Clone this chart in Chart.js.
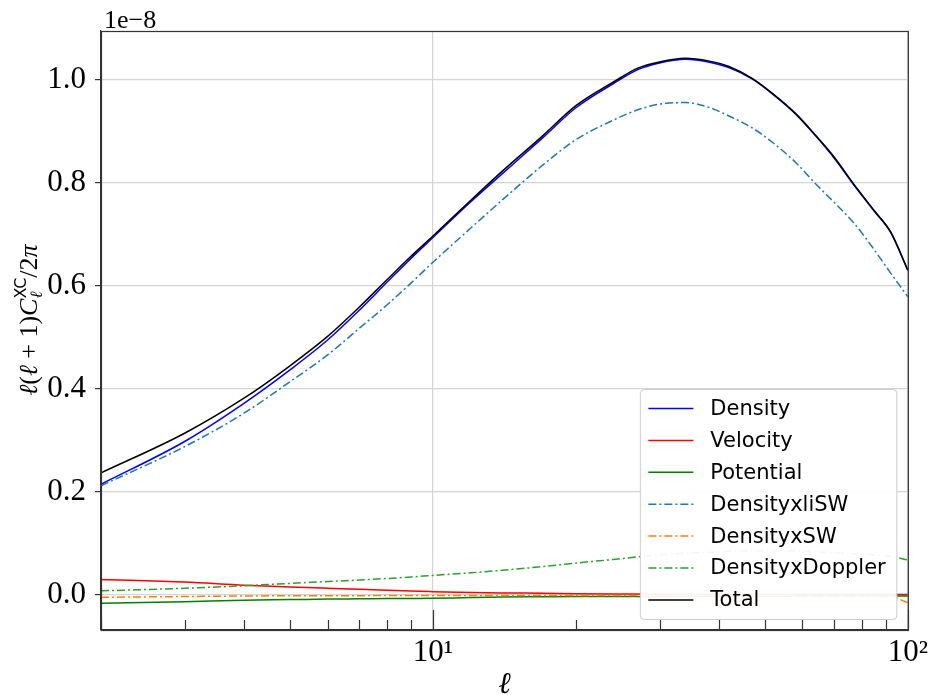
<!DOCTYPE html>
<html lang="en">
<head>
  <meta charset="UTF-8">
  <title>Cross-correlation spectra</title>
  <style>
    * { margin: 0; padding: 0; box-sizing: border-box; }
    body { background: #ffffff; width: 932px; height: 695px; overflow: hidden; }
    canvas { display: block; }
  </style>
  <script src="https://cdn.jsdelivr.net/npm/chart.js@4.4.1/dist/chart.umd.min.js"></script>
</head>
<body>
  <canvas id="clChart" width="932" height="695"></canvas>

  <script>
    // multipoles
    const ell = [2, 3, 4, 5, 6, 7, 8, 9, 10, 12, 14, 17, 20, 24, 27, 30, 34, 38, 42, 47, 52, 58, 64, 70, 77, 85, 92, 100];

    // l(l+1)C_l/2pi, in units of 1e-8
    const density = [0.215, 0.298, 0.372, 0.437, 0.495, 0.553, 0.607, 0.654, 0.694, 0.763, 0.818, 0.887, 0.946, 0.993, 1.020, 1.033, 1.040, 1.035, 1.024, 1.002, 0.972, 0.934, 0.891, 0.848, 0.796, 0.745, 0.704, 0.630];
    const velocity = [0.030, 0.025, 0.019, 0.0155, 0.013, 0.011, 0.009, 0.0075, 0.0065, 0.005, 0.004, 0.0033, 0.0025, 0.002, 0.0018, 0.0016, 0.0015, 0.0014, 0.0013, 0.0012, 0.0012, 0.0011, 0.0011, 0.001, 0.001, 0.001, 0.001, 0.001];
    const potential = [-0.016, -0.013, -0.010, -0.009, -0.008, -0.0075, -0.007, -0.0068, -0.0065, -0.005, -0.004, -0.0035, -0.003, -0.003, -0.003, -0.0028, -0.0027, -0.0026, -0.0025, -0.0024, -0.0023, -0.0022, -0.0021, -0.002, -0.002, -0.002, -0.002, -0.002];
    const densityLiSW = [0.212, 0.288, 0.353, 0.414, 0.466, 0.518, 0.563, 0.606, 0.646, 0.712, 0.767, 0.834, 0.884, 0.922, 0.942, 0.953, 0.956, 0.947, 0.930, 0.907, 0.878, 0.840, 0.798, 0.762, 0.722, 0.670, 0.625, 0.579];
    const densitySW = [-0.0045, -0.003, -0.002, -0.0015, -0.0015, -0.0013, -0.0012, -0.0011, -0.001, -0.001, -0.001, -0.001, -0.001, -0.001, -0.001, -0.001, -0.001, -0.001, -0.001, -0.001, -0.001, -0.001, -0.001, -0.001, -0.0012, -0.0015, -0.003, -0.015];
    const densityDoppler = [0.008, 0.013, 0.018, 0.0225, 0.026, 0.029, 0.032, 0.035, 0.038, 0.043, 0.048, 0.055, 0.062, 0.069, 0.074, 0.078, 0.081, 0.083, 0.085, 0.086, 0.086, 0.085, 0.084, 0.082, 0.080, 0.078, 0.075, 0.068];
    const total = [0.237, 0.314, 0.382, 0.445, 0.502, 0.559, 0.612, 0.658, 0.697, 0.766, 0.823, 0.891, 0.950, 0.996, 1.023, 1.035, 1.042, 1.037, 1.026, 1.003, 0.973, 0.935, 0.892, 0.850, 0.797, 0.746, 0.705, 0.631];

    // axis ticks
    const xTicks = [2, 3, 4, 5, 6, 7, 8, 9, 10, 20, 30, 40, 50, 60, 70, 80, 90, 100];
    const xMajor = [10, 100];
    const xLabels = { 10: '10\u00B9', 100: '10\u00B2' };
    const yTicks = [0, 0.2, 0.4, 0.6, 0.8, 1.0];

    const series = [
      { label: 'Density', data: density, color: '#0000ff', dash: [] },
      { label: 'Velocity', data: velocity, color: '#ff0000', dash: [] },
      { label: 'Potential', data: potential, color: '#008000', dash: [] },
      { label: 'DensityxliSW', data: densityLiSW, color: '#1f77b4', dash: [8, 3, 2, 3] },
      { label: 'DensityxSW', data: densitySW, color: '#ff7f0e', dash: [8, 3, 2, 3] },
      { label: 'DensityxDoppler', data: densityDoppler, color: '#2ca02c', dash: [8, 3, 2, 3] },
      { label: 'Total', data: total, color: '#000000', dash: [] }
    ];

    const serif = '"Liberation Serif", "DejaVu Serif", serif';
    const gridColor = '#d4d4d4';
    const spineColor = '#333333';

    // frame, inward x ticks, offset text, y label and legend
    const decorations = {
      id: 'decorations',
      beforeDraw(chart) {
        const c = chart.ctx;
        c.save();
        c.fillStyle = '#ffffff';
        c.fillRect(0, 0, chart.width, chart.height);
        c.restore();
      },
      afterDraw(chart) {
        const c = chart.ctx;
        const area = chart.chartArea;
        const xs = chart.scales.x;
        c.save();

        // inward ticks on the bottom spine
        c.strokeStyle = spineColor;
        c.lineWidth = 1.2;
        xTicks.forEach(v => {
          const px = Math.round(xs.getPixelForValue(v)) + 0.5;
          const len = xMajor.includes(v) ? 20 : 10;
          c.beginPath();
          c.moveTo(px, area.bottom);
          c.lineTo(px, area.bottom - len);
          c.stroke();
        });

        // frame
        c.strokeRect(area.left + 0.5, area.top + 0.5, area.right - area.left, area.bottom - area.top);

        // offset text
        c.fillStyle = '#000000';
        c.font = '26px ' + serif;
        c.textAlign = 'left';
        c.textBaseline = 'alphabetic';
        c.fillText('1e\u22128', area.left + 3, area.top - 3);

        // y axis label: l(l+1) C_l^XC / 2pi
        const parts = [
          { t: '\u2113', f: 'italic 26px ' + serif, dy: 0 },
          { t: '(', f: '26px ' + serif, dy: 0 },
          { t: '\u2113', f: 'italic 26px ' + serif, dy: 0 },
          { t: ' + 1)', f: '26px ' + serif, dy: 0 },
          { t: 'C', f: 'italic 26px ' + serif, dy: 0 },
          { t: '\u2113', f: 'italic 17px ' + serif, dy: 5 },
          { t: 'XC', f: '16px "DejaVu Sans", sans-serif', dy: -11, overlap: true },
          { t: '/2', f: '26px ' + serif, dy: 0 },
          { t: '\u03C0', f: 'italic 26px ' + serif, dy: 0 }
        ];
        let x = 0;
        parts.forEach((p, i) => {
          c.font = p.f;
          p.w = c.measureText(p.t).width;
          // superscript starts where the subscript starts
          if (p.overlap) {
            p.x = parts[i - 1].x;
            x = Math.max(x, p.x + p.w);
          } else {
            p.x = x;
            x += p.w;
          }
        });
        const width = x;

        c.translate(37, 320);
        c.rotate(-Math.PI / 2);
        parts.forEach(p => {
          c.font = p.f;
          c.fillText(p.t, p.x - width / 2, p.dy);
        });
        c.setTransform(1, 0, 0, 1, 0, 0);

        // legend box
        const bx = area.right - 267.5, by = area.bottom - 240.5, bw = 256.5, bh = 230;
        c.beginPath();
        c.roundRect(bx, by, bw, bh, 4);
        c.fillStyle = 'rgba(255,255,255,0.93)';
        c.fill();
        c.strokeStyle = '#cccccc';
        c.lineWidth = 1;
        c.stroke();

        c.font = '21px "DejaVu Sans", sans-serif';
        c.textBaseline = 'middle';
        chart.data.datasets.forEach((ds, i) => {
          const y = by + 19 + i * 31.9;
          c.strokeStyle = ds.borderColor;
          c.lineWidth = 1.5;
          c.setLineDash(ds.borderDash || []);
          c.beginPath();
          c.moveTo(bx + 8, y);
          c.lineTo(bx + 53, y);
          c.stroke();
          c.setLineDash([]);
          c.fillStyle = '#000000';
          c.fillText(ds.label, bx + 70, y + 1);
        });
        c.restore();
      }
    };

    new Chart(document.getElementById('clChart'), {
      type: 'line',
      data: {
        labels: ell,
        datasets: series.map((s, i) => ({
          label: s.label,
          data: ell.map((l, j) => ({ x: l, y: s.data[j] })),
          borderColor: s.color,
          backgroundColor: s.color,
          borderDash: s.dash,
          borderWidth: 1.5,
          pointRadius: 0,
          fill: false,
          cubicInterpolationMode: 'monotone',
          order: series.length - i
        }))
      },
      options: {
        responsive: false,
        animation: false,
        events: [],
        layout: { padding: { top: 31, right: 23, left: 0, bottom: 0 } },
        plugins: {
          legend: { display: false },
          tooltip: { enabled: false }
        },
        scales: {
          x: {
            type: 'logarithmic',
            min: 2,
            max: 100,
            afterBuildTicks: s => { s.ticks = xTicks.map(v => ({ value: v, major: xMajor.includes(v) })); },
            afterFit: s => { s.height = 65; },
            grid: {
              color: c => (c.tick && xMajor.includes(c.tick.value)) ? gridColor : 'rgba(0,0,0,0)',
              lineWidth: 1.2,
              drawTicks: false
            },
            border: { display: true, color: spineColor, width: 1.2 },
            ticks: {
              autoSkip: false,
              maxRotation: 0,
              padding: 4,
              color: '#000000',
              font: { family: serif, size: 31 },
              callback: v => xLabels[v] || ''
            },
            title: {
              display: true,
              text: '\u2113',
              color: '#000000',
              padding: { top: 0, bottom: -8 },
              font: { family: serif, size: 30, style: 'italic' }
            }
          },
          y: {
            type: 'linear',
            min: -0.068,
            max: 1.095,
            afterBuildTicks: s => { s.ticks = yTicks.map(v => ({ value: v })); },
            afterFit: s => { s.width = 101; },
            grid: {
              color: gridColor,
              lineWidth: 1.2,
              tickLength: 6,
              tickColor: spineColor
            },
            border: { display: true, color: spineColor, width: 1.2 },
            ticks: {
              padding: 9,
              color: '#000000',
              font: { family: serif, size: 31 },
              callback: v => v.toFixed(1)
            }
          }
        }
      },
      plugins: [decorations]
    });
  </script>
</body>
</html>
